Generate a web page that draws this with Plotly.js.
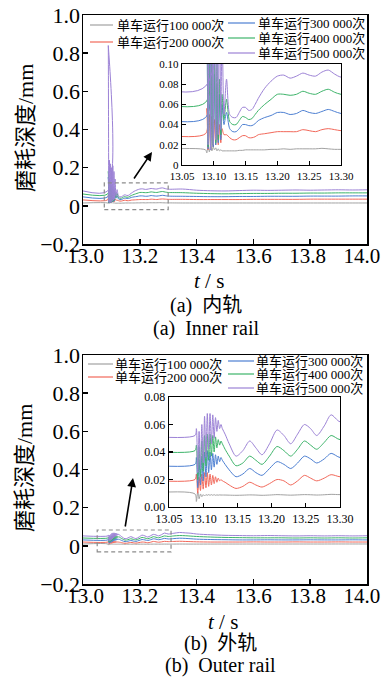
<!DOCTYPE html>
<html><head><meta charset="utf-8">
<script src="https://cdn.plot.ly/plotly-3.0.1.min.js"></script>
<style>html,body{margin:0;padding:0;background:#fff}#chart{width:382px;height:677px}</style>
</head><body><div id="chart"></div>
<script>
// ---------- series labels & colours ----------
const seriesNames = ['单车运行100 000次','单车运行200 000次','单车运行300 000次','单车运行400 000次','单车运行500 000次'];
const seriesColors = ['#a2a2a2','#f2685a','#4d7fd2','#3db46a','#9c82d6'];

// ---------- (a) inner rail ----------
const tInner = [13.000,13.087,13.089,13.091,13.093,13.095,13.097,13.099,13.101,13.103,13.105,13.107,13.109,13.111,13.113,
  13.116,13.120,13.125,13.130,13.135,13.140,13.145,13.150,13.155,13.160,13.165,13.170,
  13.180,13.190,13.200,13.210,13.220,13.230,13.240,13.250,13.260,13.270,13.280,13.290,13.300,
  13.350,13.400,13.450,13.500,13.550,13.600,13.650,13.700,13.750,13.800,13.850,13.900,13.950,14.000];
const inner100k = [0.015,0.015,0.012,0.020,0.013,0.019,0.014,0.018,0.015,0.017,0.014,0.016,0.014,0.015,0.014,
  0.014,0.014,0.014,0.014,0.014,0.0145,0.0145,0.015,0.015,0.015,0.015,0.015,
  0.015,0.0155,0.0155,0.016,0.0155,0.016,0.016,0.016,0.016,0.0165,0.016,0.0155,0.0155,
  0.015,0.015,0.015,0.015,0.015,0.015,0.015,0.015,0.015,0.015,0.015,0.015,0.015,0.015];
const inner200k = [0.031,0.031,0.056,0.015,0.050,0.016,0.048,0.018,0.045,0.020,0.044,0.020,0.040,0.022,0.036,
  0.030,0.030,0.027,0.025,0.025,0.027,0.029,0.029,0.027,0.027,0.028,0.030,
  0.031,0.032,0.033,0.033,0.033,0.033,0.035,0.034,0.033,0.035,0.036,0.035,0.034,
  0.034,0.033,0.033,0.033,0.033,0.034,0.034,0.034,0.034,0.035,0.035,0.035,0.035,0.035];
const inner300k = [0.047,0.047,0.150,0.016,0.120,0.015,0.100,0.018,0.090,0.020,0.080,0.022,0.070,0.025,0.060,
  0.040,0.052,0.036,0.033,0.033,0.036,0.040,0.040,0.039,0.039,0.041,0.044,
  0.047,0.049,0.052,0.052,0.050,0.051,0.054,0.052,0.051,0.053,0.055,0.053,0.051,
  0.050,0.049,0.048,0.048,0.049,0.049,0.050,0.050,0.050,0.051,0.051,0.051,0.052,0.052];
const inner400k = [0.062,0.062,0.180,0.018,0.140,0.016,0.120,0.020,0.110,0.022,0.100,0.025,0.085,0.030,0.070,
  0.045,0.065,0.043,0.040,0.040,0.044,0.048,0.047,0.045,0.046,0.050,0.054,
  0.060,0.065,0.070,0.070,0.069,0.070,0.073,0.071,0.070,0.073,0.075,0.072,0.070,
  0.069,0.066,0.064,0.063,0.064,0.065,0.065,0.066,0.066,0.067,0.067,0.068,0.068,0.068];
const inner500k = [0.078,0.078,0.840,0.020,0.240,0.015,0.220,0.020,0.200,0.025,0.210,0.030,0.180,0.035,0.140,
  0.050,0.085,0.050,0.047,0.047,0.052,0.057,0.057,0.054,0.055,0.060,0.066,
  0.076,0.083,0.088,0.089,0.086,0.088,0.091,0.089,0.088,0.092,0.094,0.090,0.087,
  0.088,0.082,0.079,0.078,0.080,0.082,0.081,0.082,0.083,0.082,0.083,0.084,0.083,0.084];

// ---------- (b) outer rail ----------
const tOuter = [13.000,13.088,13.090,13.092,13.094,13.096,13.098,13.100,13.102,13.104,13.106,13.108,13.110,13.112,13.114,13.116,13.118,13.120,13.122,13.124,13.126,
  13.128,13.132,13.138,13.148,13.158,13.168,13.177,13.186,13.197,13.208,13.218,13.228,13.238,13.248,13.257,13.266,13.277,13.287,13.300,
  13.320,13.340,13.360,13.380,13.400,13.450,13.500,13.550,13.600,13.650,13.700,13.750,13.800,13.850,13.900,13.950,14.000];
const outer100k = [0.0095,0.0095,0.004,0.011,0.006,0.0095,0.0075,0.009,0.008,0.009,0.0085,0.009,0.0085,0.009,0.0085,0.009,0.0085,0.0088,0.0086,0.0088,0.0087,
  0.0087,0.0087,0.0086,0.0085,0.0086,0.0088,0.0087,0.0085,0.0087,0.009,0.0088,0.0086,0.0088,0.009,0.0089,0.0087,0.0089,0.0092,0.009,
  0.0092,0.0094,0.0093,0.0092,0.0092,0.0093,0.0094,0.0094,0.0095,0.0095,0.0095,0.0096,0.0096,0.0096,0.0097,0.0097,0.0097];
const outer200k = [0.020,0.020,0.024,0.010,0.022,0.012,0.024,0.013,0.025,0.014,0.025,0.015,0.024,0.016,0.023,0.017,0.022,0.018,0.021,0.019,0.020,
  0.019,0.018,0.016,0.0135,0.015,0.018,0.016,0.0145,0.017,0.020,0.019,0.016,0.019,0.023,0.021,0.019,0.021,0.0235,0.022,
  0.023,0.024,0.023,0.022,0.021,0.020,0.020,0.020,0.0205,0.020,0.020,0.0205,0.020,0.020,0.0205,0.020,0.020];
const outer300k = [0.031,0.031,0.036,0.014,0.034,0.016,0.037,0.019,0.040,0.022,0.041,0.025,0.040,0.027,0.039,0.029,0.038,0.031,0.037,0.033,0.036,
  0.034,0.031,0.027,0.022,0.024,0.028,0.025,0.023,0.028,0.033,0.031,0.028,0.032,0.037,0.035,0.032,0.035,0.039,0.036,
  0.038,0.040,0.039,0.037,0.035,0.033,0.032,0.031,0.031,0.0315,0.031,0.031,0.0315,0.031,0.031,0.0315,0.031];
const outer400k = [0.041,0.041,0.045,0.020,0.044,0.022,0.048,0.026,0.052,0.030,0.053,0.034,0.053,0.037,0.052,0.040,0.051,0.043,0.049,0.045,0.048,
  0.046,0.042,0.037,0.030,0.032,0.037,0.034,0.031,0.037,0.044,0.041,0.037,0.042,0.048,0.045,0.042,0.047,0.052,0.049,
  0.052,0.054,0.053,0.051,0.049,0.046,0.044,0.043,0.042,0.042,0.042,0.041,0.042,0.041,0.042,0.041,0.042];
const outer500k = [0.052,0.052,0.057,0.025,0.055,0.028,0.060,0.032,0.066,0.036,0.068,0.042,0.068,0.046,0.067,0.050,0.065,0.055,0.063,0.057,0.060,
  0.057,0.053,0.046,0.037,0.041,0.048,0.043,0.038,0.046,0.056,0.052,0.046,0.053,0.060,0.057,0.052,0.059,0.067,0.062,
  0.066,0.070,0.068,0.066,0.062,0.058,0.055,0.054,0.053,0.054,0.053,0.052,0.053,0.052,0.053,0.052,0.053];

// ---------- tick labels ----------
const NB = '\u00a0';
const mainXTickVals = [13.0,13.2,13.4,13.6,13.8,14.0];
const mainXTickText = [NB + '13.0','13.2','13.4','13.6','13.8' + NB,'14.0' + NB + NB];
const mainYTickVals = [-0.2,0,0.2,0.4,0.6,0.8,1.0];
const mainYTickText = ['\u22120.2','0','0.2','0.4','0.6','0.8','1.0'];
const insetXTickVals = [13.05,13.10,13.15,13.20,13.25,13.30];
const insetXTickText = ['13.05','13.10','13.15','13.20','13.25','13.30'];
const innerInsetYTickVals = [0,0.02,0.04,0.06,0.08,0.10];
const innerInsetYTickText = ['0','0.02','0.04','0.06','0.08','0.10'];
const outerInsetYTickVals = [0,0.02,0.04,0.06,0.08];
const outerInsetYTickText = ['0.00','0.02','0.04','0.06','0.08'];

const yTitle = '磨耗深度/mm';
const xTitle = '<i>t</i> / s';
const captionsA = ['(a)  内轨','(a)  Inner rail'];
const captionsB = ['(b)  外轨','(b)  Outer rail'];

// ---------- build ----------
const W = 382, H = 677;
const px = v => v / W, py = v => 1 - v / H;
const SERIF = 'Liberation Serif, Noto Sans CJK SC, serif';

const innerSeries = [inner100k, inner200k, inner300k, inner400k, inner500k];
const outerSeries = [outer100k, outer200k, outer300k, outer400k, outer500k];

const traces = [];
function addPanel(t, series, mainAx, insetAx) {
  series.forEach((vals, i) => {
    [mainAx, insetAx].forEach(ax => {
      traces.push({
        type: 'scatter', mode: 'lines', x: t, y: vals,
        xaxis: ax[0], yaxis: ax[1], name: seriesNames[i], showlegend: false,
        line: { color: seriesColors[i], width: 1, shape: 'spline', smoothing: 0.8 },
        hoverinfo: 'skip'
      });
    });
  });
}
addPanel(tInner, innerSeries, ['x', 'y'], ['x2', 'y2']);
addPanel(tOuter, outerSeries, ['x3', 'y3'], ['x4', 'y4']);

const axBase = {
  showline: true, mirror: true, linecolor: '#000', linewidth: 1.5,
  ticks: 'inside', ticklen: 5, tickwidth: 1.5, tickcolor: '#000',
  showgrid: false, zeroline: false, fixedrange: true, automargin: false,
  tickmode: 'array'
};
function mainX(anchor, dom) {
  return Object.assign({}, axBase, { anchor, domain: dom, range: [13, 14],
    tickvals: mainXTickVals, ticktext: mainXTickText, tickfont: { family: SERIF, size: 21, color: '#000' },
    ticklabeloverflow: 'allow', ticklabelstandoff: -8 });
}
function mainY(anchor, dom) {
  return Object.assign({}, axBase, { anchor, domain: dom, range: [-0.2, 1.0],
    tickvals: mainYTickVals, ticktext: mainYTickText, tickfont: { family: SERIF, size: 22, color: '#000' },
    ticklabelstandoff: -3 });
}
function insetX(anchor, dom, fs) {
  return Object.assign({}, axBase, { anchor, domain: dom, range: [13.05, 13.30],
    linewidth: 1.3, ticklen: 4, tickwidth: 1.3, ticklabeloverflow: 'allow',
    tickvals: insetXTickVals, ticktext: insetXTickText, tickfont: { family: SERIF, size: fs, color: '#000' } });
}
function insetY(anchor, dom, range, vals, text, fs) {
  return Object.assign({}, axBase, { anchor, domain: dom, range,
    linewidth: 1.3, ticklen: 4, tickwidth: 1.3,
    tickvals: vals, ticktext: text, tickfont: { family: SERIF, size: fs, color: '#000' } });
}

const layout = {
  width: W, height: H, margin: { l: 0, r: 0, t: 0, b: 0 },
  paper_bgcolor: '#fff', plot_bgcolor: 'rgba(0,0,0,0)', showlegend: false,
  font: { family: SERIF, color: '#000' },
  xaxis: mainX('y', [px(83), px(367)]),
  yaxis: mainY('x', [py(244), py(15)]),
  xaxis2: insetX('y2', [px(182), px(341)], 11),
  yaxis2: insetY('x2', [py(165), py(64)], [0, 0.10], innerInsetYTickVals, innerInsetYTickText, 11),
  xaxis3: mainX('y3', [px(83), px(367)]),
  yaxis3: mainY('x3', [py(584), py(355)]),
  xaxis4: insetX('y4', [px(169), px(340)], 12),
  yaxis4: insetY('x4', [py(507), py(397)], [0, 0.08], outerInsetYTickVals, outerInsetYTickText, 12),
  shapes: [], annotations: []
};

// inset white backgrounds
layout.shapes.push({ type: 'rect', xref: 'paper', yref: 'paper', x0: px(182), x1: px(341), y0: py(165), y1: py(64), fillcolor: '#fff', line: { width: 0 }, layer: 'below' });
layout.shapes.push({ type: 'rect', xref: 'paper', yref: 'paper', x0: px(169), x1: px(340), y0: py(507), y1: py(397), fillcolor: '#fff', line: { width: 0 }, layer: 'below' });
// dashed zoom boxes
layout.shapes.push({ type: 'rect', xref: 'x', yref: 'y', x0: 13.075, x1: 13.30, y0: -0.02, y1: 0.12, line: { color: '#8c8c8c', width: 1.2, dash: '4px,3px' } });
layout.shapes.push({ type: 'rect', xref: 'x3', yref: 'y3', x0: 13.05, x1: 13.31, y0: -0.032, y1: 0.083, line: { color: '#8c8c8c', width: 1.2, dash: '4px,3px' } });

// arrows
layout.annotations.push({ xref: 'paper', yref: 'paper', x: px(152), y: py(152), ax: -19, ay: 28, text: '', showarrow: true, arrowhead: 2, arrowsize: 1.1, arrowwidth: 1.6, arrowcolor: '#000' });
layout.annotations.push({ xref: 'paper', yref: 'paper', x: px(133), y: py(478), ax: -8, ay: 50, text: '', showarrow: true, arrowhead: 2, arrowsize: 1.1, arrowwidth: 1.6, arrowcolor: '#000' });

// legends (manual, two columns)
function legendItem(i, xl0, xl1, xt, y) {
  layout.shapes.push({ type: 'line', xref: 'paper', yref: 'paper', x0: px(xl0), x1: px(xl1), y0: py(y), y1: py(y), line: { color: seriesColors[i], width: 1.2 } });
  layout.annotations.push({ xref: 'paper', yref: 'paper', x: px(xt), y: py(y), xanchor: 'left', yanchor: 'middle', showarrow: false, text: seriesNames[i], font: { family: SERIF, size: 13, color: '#000' } });
}
legendItem(0, 90, 113, 115, 25);
legendItem(1, 90, 113, 115, 42);
legendItem(2, 228, 255, 256, 23);
legendItem(3, 228, 255, 256, 38);
legendItem(4, 228, 255, 256, 53);
legendItem(0, 88, 113, 113, 364);
legendItem(1, 88, 113, 113, 377);
legendItem(2, 228, 254, 254, 361);
legendItem(3, 228, 254, 254, 374);
legendItem(4, 228, 254, 254, 388);

// texts
function text(str, x, y, size, angle) {
  layout.annotations.push({ xref: 'paper', yref: 'paper', x: px(x), y: py(y), xanchor: 'center', yanchor: 'middle', showarrow: false, text: str, textangle: angle || 0, font: { family: SERIF, size, color: '#000' } });
}
text(yTitle, 25, 128, 22, -90);
text(yTitle, 25, 468, 22, -90);
text(xTitle, 209, 281, 21);
text(captionsA[0], 206, 305, 20);
text(captionsA[1], 206, 328, 20);
text(xTitle, 223, 622, 21);
text(captionsB[0], 220, 643, 20);
text(captionsB[1], 220, 665, 20);

Plotly.newPlot('chart', traces, layout, { staticPlot: true, displayModeBar: false });
</script>
</body></html>
